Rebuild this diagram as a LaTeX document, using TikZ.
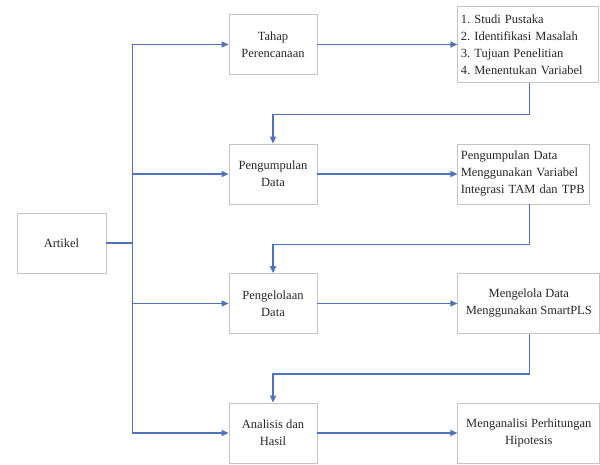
\documentclass[tikz,border=0pt]{standalone}
\usepackage{fontspec}
\setmainfont{Liberation Serif}
\usetikzlibrary{arrows.meta,positioning}
\definecolor{linkblue}{HTML}{4F72B8}
\definecolor{boxgray}{HTML}{C4C4C4}
\definecolor{textgray}{HTML}{262626}

\tikzset{
  box/.style={draw=boxgray, line width=0.8pt, rectangle, align=center, text=textgray,
    font=\fontsize{12.5}{17}\selectfont, minimum width=88pt, minimum height=60pt},
  listbox/.style={box, align=left, inner xsep=3pt},
  link/.style={draw=linkblue, line width=1.2pt, -{Triangle[length=7pt,width=6pt]}},
  trunkline/.style={draw=linkblue, line width=1.4pt}
}

\begin{document}
\frenchspacing
\begin{tikzpicture}[x=1pt, y=-1pt]
    \useasboundingbox (0,0) rectangle (600,465);

    \node (artikel) [box, minimum width=89pt] at (61.5,243) {Artikel};

    \node (tahap) [box] at (273,44.5) {Tahap\\Perencanaan};
    \node (kumpul) [box, below=68.7pt of tahap] {Pengumpulan\\Data};
    \node (kelola) [box, below=68.7pt of kumpul] {Pengelolaan\\Data};
    \node (analisis) [box, below=68.7pt of kelola] {Analisis dan\\Hasil};

    \node (studi) [listbox, text width=135pt, minimum height=76pt, right=140pt of tahap] {1. Studi Pustaka\\2. Identifikasi Masalah\\3. Tujuan Penelitian\\4. Menentukan Variabel};
    \node (data) [listbox, text width=126pt, right=140pt of kumpul] {Pengumpulan Data\\Menggunakan Variabel\\Integrasi TAM dan TPB};
    \node (smartpls) [box, minimum width=142pt, right=140pt of kelola] {Mengelola Data\\Menggunakan SmartPLS};
    \node (hipotesis) [box, minimum width=142pt, right=140pt of analisis] {Menganalisi Perhitungan\\Hipotesis};

    % cabang dari artikel
    \draw [trunkline] (artikel.east) -- ++(26,0) coordinate (trunk);
    \draw [link] (trunk) |- (tahap.west);
    \draw [link] (trunk) |- (kumpul.west);
    \draw [link] (trunk) |- (kelola.west);
    \draw [link] (trunk) |- (analisis.west);

    \draw [link] (tahap) -- (studi);
    \draw [link] (kumpul) -- (data);
    \draw [link] (kelola) -- (smartpls);
    \draw [link] (analisis) -- (hipotesis);

    % umpan balik ke tahap berikutnya
    \draw [link] ([xshift=1.5pt]studi.south) -- ++(0,32) -| (kumpul.north);
    \draw [link] ([xshift=6pt]data.south) -- ++(0,40) -| (kelola.north);
    \draw [link] ([xshift=1pt]smartpls.south) -- ++(0,40) -| (analisis.north);
\end{tikzpicture}
\end{document}
